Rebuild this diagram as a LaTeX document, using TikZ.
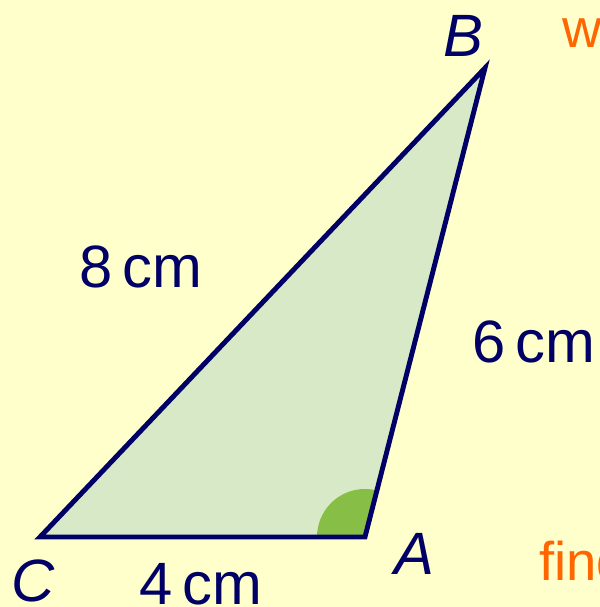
\documentclass[tikz,border=0pt]{standalone}
\usepackage{fontspec}
\setmainfont{Liberation Sans}
\definecolor{bgYellow}{HTML}{FFFFCC}
\definecolor{triNavy}{HTML}{000066}
\definecolor{triFill}{HTML}{D8E9C8}
\definecolor{angGreen}{HTML}{86BE46}
\definecolor{noteOrange}{HTML}{FF6600}
\usetikzlibrary{angles}

\begin{document}
\begin{tikzpicture}[
                    side/.style={draw=triNavy, line width=2.8pt},
                    lenlabel/.style={anchor=base west, inner sep=0pt, text=triNavy,
                                     font=\fontsize{34}{40}\selectfont},
                    vxlabel/.style={lenlabel, font=\fontsize{34}{40}\selectfont\itshape},
                    note/.style={anchor=base west, inner sep=0pt, text=noteOrange,
                                 font=\fontsize{31}{37}\selectfont}
                ]
                    \useasboundingbox (0,0) rectangle (12,12.14);
                    \clip (0,0) rectangle (12,12.14);
                    \fill[bgYellow] (0,0) rectangle (12,12.14);
                    % triangle corners
                    \coordinate (C) at (0.80,1.40);
                    \coordinate (A) at (7.30,1.40);
                    \coordinate (B) at (9.70,10.78);
                    \fill[triFill] (C) -- (A) -- (B) -- cycle;
                    \pic[fill=angGreen, angle radius=0.96cm] {angle=B--A--C};
                    \draw[side] (C) -- (A) -- (B) -- cycle;
                    % labels
                    \node[vxlabel] (lB) at (8.86,11.00) {B};
                    \node[vxlabel] (lA) at (7.88,0.64) {A};
                    \node[vxlabel] (lC) at (0.22,0.10) {C};
                    \node[lenlabel] (lCB) at (1.58,6.40) {8\,cm};
                    \node[lenlabel] (lAB) at (9.44,4.90) {6\,cm};
                    \node[lenlabel] (lCA) at (2.78,0.04) {4\,cm};
                    \node[note] (n1) at (11.24,11.20) {w};
                    \node[note] (n2) at (10.78,0.54) {find};
                \end{tikzpicture}
\end{document}
